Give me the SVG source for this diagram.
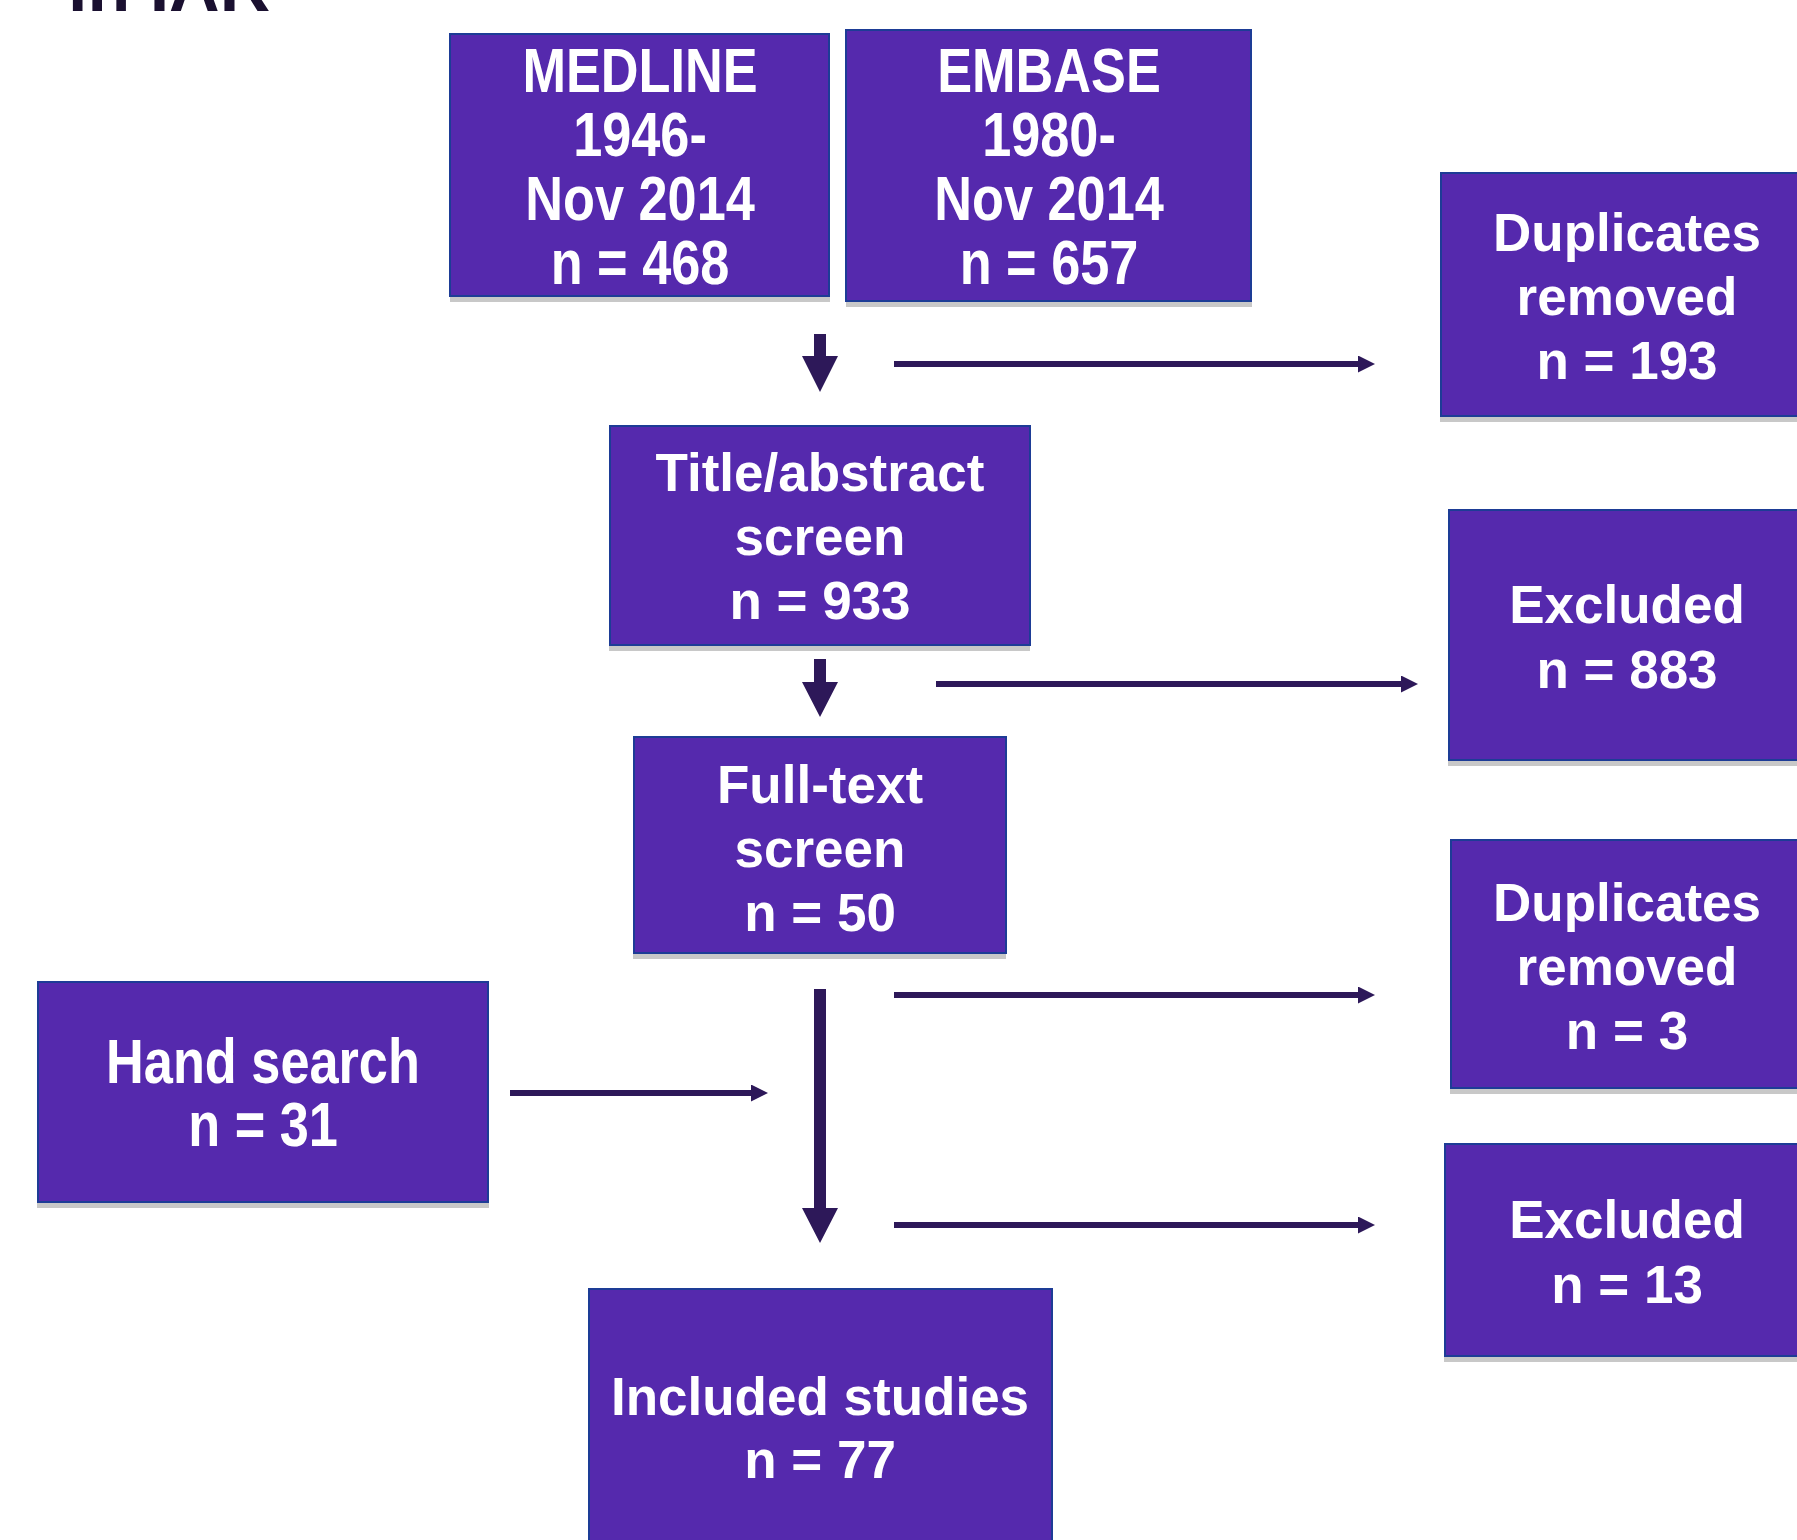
<svg xmlns="http://www.w3.org/2000/svg" width="1797" height="1540" viewBox="0 0 1797 1540">
<style>
.box{fill:#5529ad;stroke:#1d3c96;stroke-width:2}
.shadow{fill:#c8c8c8}
.t{font-family:"Liberation Sans",Arial,sans-serif;font-weight:bold;font-size:53px;fill:#ffffff;text-anchor:middle}
.tn{font-family:"Liberation Sans",Arial,sans-serif;font-weight:bold;font-size:63px;fill:#ffffff;text-anchor:middle}
.conn{stroke:#2d1859;stroke-width:6;fill:none}
.blk{fill:#2d1859}
.title{font-family:"Liberation Sans",Arial,sans-serif;font-weight:bold;font-size:70px;fill:#1a1030}
</style>
<defs>
<marker id="ah" markerUnits="userSpaceOnUse" markerWidth="18" markerHeight="18" refX="0" refY="8.5" orient="auto">
<path d="M0,0 L17,8.5 L0,17 z" fill="#2d1859"/>
</marker>
</defs>
<rect width="1797" height="1540" fill="#ffffff"/>
<text class="title" x="68" y="11">in IAR</text>

<g id="medline">
<rect class="shadow" x="450" y="39" width="380" height="263"/>
<rect class="box" x="450" y="34" width="379" height="262"/>
<g transform="translate(640,0) scale(0.83,1)">
<text class="tn" x="0" y="92">MEDLINE</text>
<text class="tn" x="0" y="156">1946-</text>
<text class="tn" x="0" y="220">Nov 2014</text>
<text class="tn" x="0" y="284">n = 468</text>
</g>
</g>

<g id="embase">
<rect class="shadow" x="846" y="35" width="406" height="272"/>
<rect class="box" x="846" y="30" width="405" height="271"/>
<g transform="translate(1049,0) scale(0.83,1)">
<text class="tn" x="0" y="92">EMBASE</text>
<text class="tn" x="0" y="156">1980-</text>
<text class="tn" x="0" y="220">Nov 2014</text>
<text class="tn" x="0" y="284">n = 657</text>
</g>
</g>

<g id="dup1">
<rect class="shadow" x="1440" y="178" width="380" height="244"/>
<rect class="box" x="1441" y="173" width="380" height="243"/>
<text class="t" x="1627" y="251">Duplicates</text>
<text class="t" x="1627" y="315">removed</text>
<text class="t" x="1627" y="379">n = 193</text>
</g>

<g id="title-abstract">
<rect class="shadow" x="609" y="431" width="421" height="220"/>
<rect class="box" x="610" y="426" width="420" height="219"/>
<text class="t" x="820" y="491">Title/abstract</text>
<text class="t" x="820" y="555">screen</text>
<text class="t" x="820" y="619">n = 933</text>
</g>

<g id="excluded1">
<rect class="shadow" x="1448" y="515" width="372" height="251"/>
<rect class="box" x="1449" y="510" width="372" height="250"/>
<text class="t" x="1627" y="623">Excluded</text>
<text class="t" x="1627" y="688">n = 883</text>
</g>

<g id="fulltext">
<rect class="shadow" x="633" y="742" width="373" height="217"/>
<rect class="box" x="634" y="737" width="372" height="216"/>
<text class="t" x="820" y="803">Full-text</text>
<text class="t" x="820" y="867">screen</text>
<text class="t" x="820" y="931">n = 50</text>
</g>

<g id="dup2">
<rect class="shadow" x="1450" y="845" width="372" height="249"/>
<rect class="box" x="1451" y="840" width="372" height="248"/>
<text class="t" x="1627" y="921">Duplicates</text>
<text class="t" x="1627" y="985">removed</text>
<text class="t" x="1627" y="1049">n = 3</text>
</g>

<g id="handsearch">
<rect class="shadow" x="37" y="987" width="452" height="221"/>
<rect class="box" x="38" y="982" width="450" height="220"/>
<g transform="translate(263,0) scale(0.83,1)">
<text class="tn" x="0" y="1083">Hand search</text>
<text class="tn" x="0" y="1146">n = 31</text>
</g>
</g>

<g id="excluded2">
<rect class="shadow" x="1444" y="1149" width="376" height="213"/>
<rect class="box" x="1445" y="1144" width="376" height="212"/>
<text class="t" x="1627" y="1238">Excluded</text>
<text class="t" x="1627" y="1303">n = 13</text>
</g>

<g id="included">
<rect class="shadow" x="588" y="1294" width="465" height="260"/>
<rect class="box" x="589" y="1289" width="463" height="260"/>
<text class="t" x="820" y="1415">Included studies</text>
<text class="t" x="820" y="1478">n = 77</text>
</g>

<g id="connectors">
<polygon class="blk" points="814,334 826,334 826,356 838,356 820,392 802,356 814,356"/>
<polygon class="blk" points="814,659 826,659 826,682 838,682 820,717 802,682 814,682"/>
<polygon class="blk" points="814,989 826,989 826,1208 838,1208 820,1243 802,1208 814,1208"/>
<line class="conn" x1="894" y1="364" x2="1358" y2="364" marker-end="url(#ah)"/>
<line class="conn" x1="936" y1="684" x2="1401" y2="684" marker-end="url(#ah)"/>
<line class="conn" x1="894" y1="995" x2="1358" y2="995" marker-end="url(#ah)"/>
<line class="conn" x1="510" y1="1093" x2="751" y2="1093" marker-end="url(#ah)"/>
<line class="conn" x1="894" y1="1225" x2="1358" y2="1225" marker-end="url(#ah)"/>
</g>
</svg>
